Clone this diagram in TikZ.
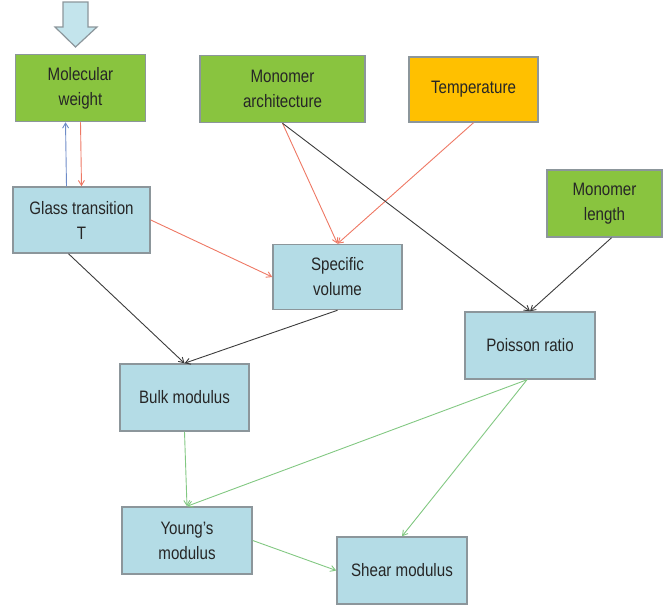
\documentclass[tikz,border=0pt]{standalone}
\usepackage{fontspec}
\setmainfont{Liberation Sans}
\usetikzlibrary{arrows.meta}
\definecolor{boxblue}{RGB}{180,220,230}
\definecolor{boxgreen}{RGB}{137,196,63}
\definecolor{boxorange}{RGB}{255,192,0}
\definecolor{boxline}{RGB}{140,150,155}
\definecolor{arrred}{RGB}{238,120,100}
\definecolor{arrgreen}{RGB}{130,200,130}
\definecolor{arrblue}{RGB}{110,140,200}
\definecolor{arrblack}{RGB}{60,60,60}
\definecolor{bigarrow}{RGB}{195,228,236}
\newcommand{\sq}[1]{\scalebox{0.84}[1]{#1}}
\begin{document}
\begin{tikzpicture}[x=1pt,y=-1pt,
  box/.style={draw=boxline, line width=1.5pt, rectangle, align=center,
    minimum width=130pt, minimum height=66pt, inner sep=2pt,
    font=\fontsize{18}{25}\selectfont, text=black!85},
  bluebox/.style={box, fill=boxblue},
  greenbox/.style={box, fill=boxgreen},
  orangebox/.style={box, fill=boxorange},
  conn/.style={line width=0.9pt, -{Straight Barb[length=5pt,width=6pt]}},
  redc/.style={conn, draw=arrred},
  greenc/.style={conn, draw=arrgreen},
  blackc/.style={conn, draw=arrblack},
  bluec/.style={conn, draw=arrblue}]
\useasboundingbox (0,0) rectangle (664,605);
% big arrow at top
\draw[draw=boxline, fill=bigarrow, line width=1.2pt, line join=miter]
  (63,2) -- (88,2) -- (88,27) -- (97,27) -- (75.5,47) -- (55,27) -- (63,27) -- cycle;
% nodes
\node[greenbox, minimum width=130pt, minimum height=67pt] (mw) at (80.5,88) {\sq{Molecular}\\\sq{weight}};
\node[greenbox, minimum width=165pt, minimum height=67pt] (ma) at (282.5,89) {\sq{Monomer}\\\sq{architecture}};
\node[orangebox, minimum width=129pt, minimum height=65pt] (temp) at (473.5,89.5) {\sq{Temperature}};
\node[greenbox, minimum width=115pt, minimum height=67pt] (ml) at (604.5,203.5) {\sq{Monomer}\\\sq{length}};
\node[bluebox, minimum width=137pt, minimum height=66pt] (glass) at (81.5,220) {\sq{Glass transition}\\\sq{T}};
\node[bluebox, minimum width=129pt, minimum height=65pt] (sv) at (337.5,277) {\sq{Specific}\\\sq{volume}};
\node[bluebox, minimum width=130pt, minimum height=67pt] (pr) at (530,345.5) {\sq{Poisson ratio}};
\node[bluebox, minimum width=129pt, minimum height=67pt] (bulk) at (184.5,397.5) {\sq{Bulk modulus}};
\node[bluebox, minimum width=130pt, minimum height=67pt] (young) at (187,540.5) {\sq{Young's}\\\sq{modulus}};
\node[bluebox, minimum width=130pt, minimum height=67pt] (shear) at (402,570.5) {\sq{Shear modulus}};
% connectors
\draw[bluec] ([xshift=-15pt]glass.north) -- ([xshift=-15pt]mw.south);
\draw[redc] (mw.south) -- (glass.north);
\draw[redc] (ma.south) -- (sv.north);
\draw[redc] (temp.south) -- (sv.north);
\draw[blackc] (ma.south) -- (pr.north);
\draw[blackc] ([xshift=7pt]ml.south) -- (pr.north);
\draw[redc] (glass.east) -- (sv.west);
\draw[blackc] ([xshift=-13pt]glass.south) -- (bulk.north);
\draw[blackc] (sv.south) -- (bulk.north);
\draw[greenc] (bulk.south) -- (young.north);
\draw[greenc] ([xshift=-3pt]pr.south) -- (young.north);
\draw[greenc] ([xshift=-3pt]pr.south) -- (shear.north);
\draw[greenc] (young.east) -- (shear.west);
\end{tikzpicture}
\end{document}
